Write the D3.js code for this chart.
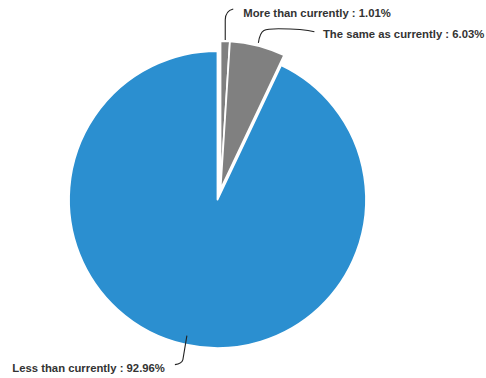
<!DOCTYPE html>
<html>
<head>
<meta charset="utf-8">
<script src="https://cdn.jsdelivr.net/npm/d3@7"></script>
<style>
  html, body { margin: 0; padding: 0; background: #fff; }
  svg { display: block; }
</style>
</head>
<body>
<svg id="chart" width="486" height="378"></svg>
<script>
// ---- data ----
const categories = ["More than currently", "The same as currently", "Less than currently"];
const values = [1.01, 6.03, 92.96];
const valueLabels = ["1.01%", "6.03%", "92.96%"];
const colors = ["#808080", "#808080", "#2B8FD0"];
const pulled = [true, true, false];

// ---- layout ----
const W = 486, H = 378;
const cx = 217.5, cy = 199.5, R = 148.5;
const pullVec = [3, -10];

const svg = d3.select("#chart");
const g = svg.append("g").attr("transform", `translate(${cx},${cy})`);

const pie = d3.pie().sort(null).value(d => d)(values);
const arc = d3.arc().innerRadius(0).outerRadius(R);

function offset(d, i) {
  return pulled[i] ? pullVec : [0, 0];
}

g.selectAll("path.slice").data(pie).enter().append("path")
  .attr("class", "slice")
  .attr("d", arc)
  .attr("fill", (d, i) => colors[i])
  .attr("stroke", "#fff")
  .attr("stroke-width", 1.8)
  .attr("stroke-linejoin", "round")
  .attr("transform", (d, i) => { const o = offset(d, i); return `translate(${o[0]},${o[1]})`; });

// ---- labels & leader lines ----
function outerPoint(d, i, r) {
  const a = (d.startAngle + d.endAngle) / 2;
  const o = offset(d, i);
  return [Math.sin(a) * r + o[0], -Math.cos(a) * r + o[1]];
}

const labelSpec = [
  { anchor: "start", dx: 18, dy: -23, r: R + 1 },
  { anchor: "start", dx: 64.5, dy: -5, r: R + 3 },
  { anchor: "end", dx: -22, dy: 36.5, r: R - 9 }
];

const lines = g.append("g").attr("fill", "none").attr("stroke", "#222").attr("stroke-width", 1.1);
const texts = g.append("g")
  .attr("font-family", "'Liberation Sans', Arial, sans-serif")
  .attr("font-size", 11.3)
  .attr("fill", "#333");

pie.forEach((d, i) => {
  const s = labelSpec[i];
  const [x0, y0] = outerPoint(d, i, s.r);
  const tx = x0 + s.dx, ty = y0 + s.dy;
  let p;
  if (i === 0) {
    p = `M${x0},${y0} L${x0},${y0 - 20} Q${x0},${y0 - 29} ${x0 + 8},${y0 - 31}`;
  } else if (i === 1) {
    p = `M${x0},${y0} C${x0 + 2},${y0 - 14} ${x0 + 6},${y0 - 14} ${x0 + 20},${y0 - 14} S${x0 + 45},${y0 - 14} ${x0 + 56},${y0 - 11}`;
  } else {
    p = `M${x0},${y0} L${x0 - 4},${y0 + 24} Q${x0 - 5},${y0 + 28} ${x0 - 12},${y0 + 29}`;
  }
  lines.append("path").attr("d", p);
  const t = texts.append("text")
    .attr("x", tx).attr("y", ty)
    .attr("text-anchor", s.anchor)
    .attr("font-weight", "bold");
  t.append("tspan").text(categories[i] + " : ");
  t.append("tspan").text(valueLabels[i]);
});
</script>
</body>
</html>
